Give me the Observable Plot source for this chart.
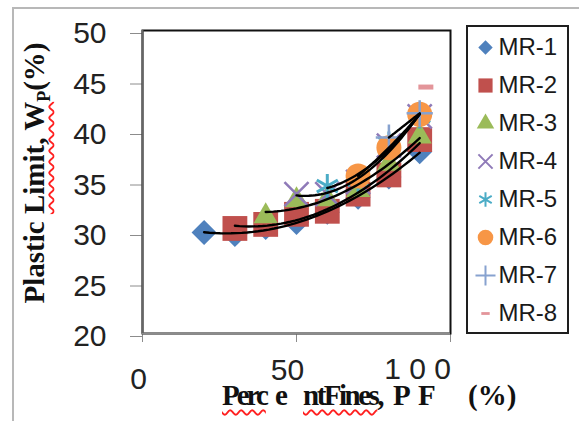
<!DOCTYPE html>
<html>
<head>
<meta charset="utf-8">
<script src="https://cdn.jsdelivr.net/npm/d3@7"></script>
<script src="https://cdn.jsdelivr.net/npm/@observablehq/plot@0.6"></script>
<style>
  body { margin: 0; background: #fff; }
  #chart { position: relative; width: 579px; height: 421px; overflow: hidden; background: #fff; }
  #sheet { position: absolute; left: 12px; top: 7px; right: -5px; bottom: -5px;
           border-top: 2px solid #b8b8b8; border-left: 2px solid #b8b8b8; }
  #plot { position: absolute; left: 0; top: 0; line-height: 0; }
  #legend { position: absolute; left: 466px; top: 25px; width: 99px; height: 305px;
            border: 2px solid #1e1e1e; background: #fff; line-height: 0; }
  .ylab { position: absolute; left: 36px; top: 173px; transform: translate(-50%, -50%) rotate(-90deg);
          font: bold 29px "Liberation Serif", serif; white-space: nowrap; color: #111; line-height: 1; }
  .ylab sub { font-size: 18px; vertical-align: -6px; }
  .xlab > span { position: absolute; top: 381px; font: bold 29px "Liberation Serif", serif;
                 white-space: pre; color: #111; line-height: 1; }
  .squig { text-decoration: underline wavy #ff2020; text-decoration-thickness: 1.5px;
           text-underline-offset: 4px; text-decoration-skip-ink: none; }
</style>
</head>
<body>
<div id="chart">
  <div id="sheet"></div>
  <div id="plot"></div>
  <div id="legend"></div>
  <div class="ylab">Plastic <span class="squig">Limit, W</span><sub>P</sub>(%)</div>
  <div class="xlab">
    <span style="left:222px;letter-spacing:-3px"><span class="squig">Perc</span></span>
    <span style="left:275px">e</span>
    <span style="left:303px;letter-spacing:-2.5px"><span class="squig">ntFines</span>,</span>
    <span style="left:393px">P</span>
    <span style="left:418px">F</span>
    <span style="left:468px">(%)</span>
  </div>
</div>
<script>
// Plastic limit (%) against percent fines (%) for eight soil mixes
const seriesNames = ["MR-1", "MR-2", "MR-3", "MR-4", "MR-5", "MR-6", "MR-7", "MR-8"];

const finesMR1 = [20, 30, 40, 50, 60, 70, 80, 90];
const plasticMR1 = [30, 29.8, 30.5, 31, 32, 33.5, 35.5, 38];
const finesMR2 = [30, 40, 50, 60, 70, 80, 90];
const plasticMR2 = [30.4, 30.8, 31.8, 32.1, 33.8, 35.7, 39.2];
const finesMR3 = [40, 50, 60, 70, 80, 90];
const plasticMR3 = [31.6, 33.2, 33.3, 34.2, 36.8, 39.5];
const finesMR4 = [50, 60, 70, 80, 90];
const plasticMR4 = [33.8, 33.8, 35, 38.6, 41.5];
const finesMR5 = [60, 70, 80, 90];
const plasticMR5 = [34.6, 35.2, 38.8, 41.5];
const finesMR6 = [70, 80, 90];
const plasticMR6 = [35.6, 38.4, 41.7];
const finesMR7 = [80, 90];
const plasticMR7 = [39.4, 41.8];
const finesMR8 = [92];
const plasticMR8 = [44.4];

const yTicks = [20, 25, 30, 35, 40, 45, 50];
const xTicks = [0, 50, 100];
const xTickLabels = ["0", "50", "1 0 0"];

// series styling
const seriesColors = ["#4f81bd", "#c0504d", "#9bbb59", "#8f7ab8", "#4bacc6", "#f79646", "#87a2cf", "#e3959a"];
const dash = {
  draw(context, size) {
    const r = Math.sqrt(size / Math.PI);
    context.rect(-r, -r / 3, 2 * r, (2 * r) / 3);
  }
};
const seriesSymbols = ["diamond2", "square", "triangle", "times", "asterisk", "circle", "plus", dash];
const filled = [true, true, true, false, false, true, false, true];
const markerR = [11.3, 14, 9, 11, 11.5, 12.5, 8.5, 7.5];
const legendR = [6.5, 8, 6.5, 6.5, 6.8, 7.8, 6.5, 4.2];

const finesAll = [finesMR1, finesMR2, finesMR3, finesMR4, finesMR5, finesMR6, finesMR7, finesMR8];
const plasticAll = [plasticMR1, plasticMR2, plasticMR3, plasticMR4, plasticMR5, plasticMR6, plasticMR7, plasticMR8];

const points = seriesNames.map((s, i) =>
  finesAll[i].map((f, j) => ({series: s, fines: f, plastic: plasticAll[i][j]})));

// least-squares polynomial trend (order 2, or 1 for two points)
function fitTrend(xs, ys) {
  const n = xs.length;
  if (n < 2) return null;
  if (n === 2) {
    const b = (ys[1] - ys[0]) / (xs[1] - xs[0]);
    return x => ys[0] + b * (x - xs[0]);
  }
  const S = k => d3.sum(xs, x => x ** k);
  const T = k => d3.sum(xs, (x, i) => x ** k * ys[i]);
  const A = [[n, S(1), S(2), T(0)], [S(1), S(2), S(3), T(1)], [S(2), S(3), S(4), T(2)]];
  for (let c = 0; c < 3; c++) {
    for (let r = c + 1; r < 3; r++) {
      const f = A[r][c] / A[c][c];
      for (let k = c; k < 4; k++) A[r][k] -= f * A[c][k];
    }
  }
  const coef = [0, 0, 0];
  for (let r = 2; r >= 0; r--) {
    let v = A[r][3];
    for (let k = r + 1; k < 3; k++) v -= A[r][k] * coef[k];
    coef[r] = v / A[r][r];
  }
  return x => coef[0] + coef[1] * x + coef[2] * x * x;
}

const trends = [];
seriesNames.forEach((s, i) => {
  const fn = fitTrend(finesAll[i], plasticAll[i]);
  if (!fn) return;
  const [x0, x1] = d3.extent(finesAll[i]);
  d3.range(0, 41).forEach(k => {
    const x = x0 + (x1 - x0) * k / 40;
    trends.push({series: s, fines: x, plastic: fn(x)});
  });
});

const dotMarks = seriesNames.map((s, i) => Plot.dot(points[i], {
  x: "fines", y: "plastic", symbol: "series", r: markerR[i],
  fill: filled[i] ? "series" : "none",
  stroke: filled[i] ? "none" : "series",
  strokeWidth: s === "MR-5" ? 3 : 2.5
}));

const tickDx = [-4, -9, -33];
const tickDy = [46, 37, 36];
const xTickText = xTicks.map((t, i) => Plot.text([t], {
  x: d => d, text: () => xTickLabels[i], frameAnchor: "bottom",
  lineAnchor: "middle", dx: tickDx[i], dy: tickDy[i], fontSize: 30, fill: "#222"
}));

const main = Plot.plot({
  width: 579, height: 421,
  marginLeft: 142, marginRight: 129, marginTop: 30, marginBottom: 88,
  style: {fontFamily: "Liberation Sans, Arial, sans-serif", background: "transparent", overflow: "visible"},
  x: {domain: [0, 100], axis: null},
  y: {domain: [20, 50], axis: null},
  symbol: {domain: seriesNames, range: seriesSymbols},
  color: {domain: seriesNames, range: seriesColors},
  marks: [
    Plot.axisY({ticks: yTicks, tickSize: 12, tickPadding: 24, fontSize: 30, stroke: "#8c8c8c", fill: "#222", dy: 3, label: null}),
    Plot.axisX({ticks: xTicks, tickSize: 9, tickFormat: () => "", stroke: "#8c8c8c", label: null}),
    ...xTickText,
    Plot.frame({stroke: "#111", strokeWidth: 2}),
    Plot.ruleY([20], {stroke: "#8c8c8c", strokeWidth: 2}),
    Plot.ruleX([0], {stroke: "#666", strokeWidth: 2}),
    ...dotMarks,
    Plot.line(trends, {x: "fines", y: "plastic", z: "series", stroke: "#000", strokeWidth: 2.4})
  ]
});
document.getElementById("plot").append(main);

// legend: one row per series
const legend = Plot.plot({
  width: 99, height: 305, margin: 0,
  style: {fontFamily: "Liberation Sans, Arial, sans-serif", background: "transparent"},
  x: {axis: null},
  y: {type: "band", domain: seriesNames, axis: null, padding: 0},
  symbol: {domain: seriesNames, range: seriesSymbols},
  color: {domain: seriesNames, range: seriesColors},
  marks: [
    ...seriesNames.map((s, i) => Plot.dot([s], {
      y: d => d, symbol: d => d, frameAnchor: "left", dx: 17, r: legendR[i],
      fill: filled[i] ? d => d : "none",
      stroke: filled[i] ? "none" : d => d,
      strokeWidth: 2
    })),
    Plot.text(seriesNames, {y: d => d, text: d => d, frameAnchor: "left", dx: 30,
      textAnchor: "start", fontSize: 24, fill: "#1a1a1a"})
  ]
});
document.getElementById("legend").append(legend);
</script>
</body>
</html>
